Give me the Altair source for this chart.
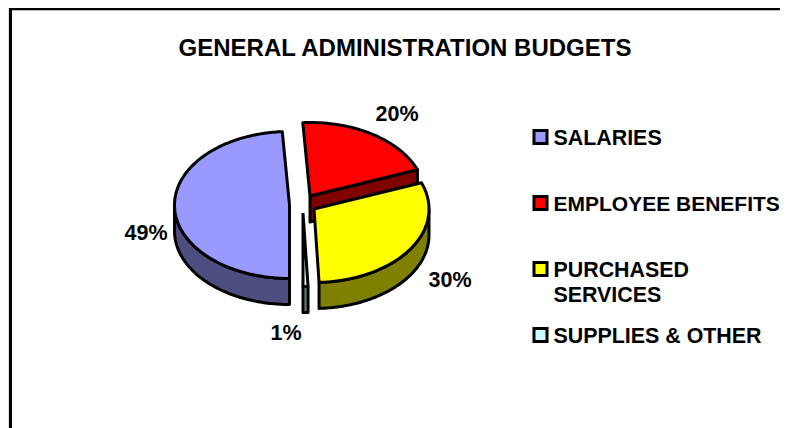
import numpy as np
import pandas as pd
import altair as alt

# --- data ---
title_text = "GENERAL ADMINISTRATION BUDGETS"
categories = ["SALARIES", "EMPLOYEE BENEFITS", "PURCHASED\nSERVICES", "SUPPLIES & OTHER"]
shares = [49.0, 20.2, 30.1, 0.7]
percent_labels = ["49%", "20%", "30%", "1%"]

# --- styles ---
top_colors = ["#9999FF", "#FF0000", "#FFFF00", "#CCFFFF"]
side_colors = ["#4D4D80", "#800000", "#808000", "#668080"]
FONT = "Liberation Sans"
EDGE = 3

# --- layout (pixels in the picture) ---
centers = [(289.5, 205), (310, 196), (314, 209), (303, 213)]
A, B, DEPTH = 115, 73.5, 26
START = 180.0
label_pos = [(146, 234), (397, 115), (450, 281), (286, 334)]
legend_y = [137, 203, 269, 335]
legend_text_dy = 1.5
legend_text_x = 553.5

xs = alt.Scale(domain=[8, 780], range=[0, 772], nice=False, zero=False)
ys = alt.Scale(domain=[428, 8], range=[420, 0], nice=False, zero=False)
X = alt.X("x:Q", scale=xs, axis=None)
Y = alt.Y("y:Q", scale=ys, axis=None)


def rim(cx, cy, t0, t1, dy=0.0):
    ts = np.radians(np.linspace(t0, t1, max(2, int(abs(t1 - t0)) + 2)))
    return list(zip(cx + A * np.sin(ts), cy - B * np.cos(ts) + dy))


def poly(points, fill):
    pts = list(points) + [points[0]]
    df = pd.DataFrame({"x": [p[0] for p in pts], "y": [p[1] for p in pts], "o": range(len(pts))})
    return (
        alt.Chart(df)
        .mark_line(fill=fill, stroke="black", strokeWidth=EDGE, strokeJoin="round", clip=False)
        .encode(x=X, y=Y, order="o:Q")
    )


# slice angles from the shares
spans = [s * 3.6 for s in shares]
starts = list(START + np.cumsum([0] + spans[:-1]))
ends = [s + d for s, d in zip(starts, spans)]

layers = []

# frame
frame_h = pd.DataFrame({"x": [9], "x2": [780], "y": [8.5]})
frame_v = pd.DataFrame({"x": [10.5], "y": [8], "y2": [428]})
frame_g = pd.DataFrame({"x": [12], "x2": [780], "y": [10.5]})
layers.append(alt.Chart(frame_g).mark_rule(color="#bbbbbb", strokeWidth=1).encode(x=X, x2="x2:Q", y=Y))
layers.append(alt.Chart(frame_h).mark_rule(color="black", strokeWidth=3).encode(x=X, x2="x2:Q", y=Y))
layers.append(alt.Chart(frame_v).mark_rule(color="black", strokeWidth=3).encode(x=X, y=Y, y2="y2:Q"))


def wedge(i):
    cx, cy = centers[i]
    return [(cx, cy)] + rim(cx, cy, starts[i], ends[i])


# salaries
cx, cy = centers[0]
layers.append(poly(rim(cx, cy, 180, 270) + rim(cx, cy, 270, 180, DEPTH), side_colors[0]))
layers.append(poly(wedge(0), top_colors[0]))

# employee benefits: cut faces
cx, cy = centers[1]
end_pt = rim(cx, cy, ends[1], ends[1])[0]
layers.append(poly([(cx, cy), end_pt, (end_pt[0], end_pt[1] + DEPTH), (cx, cy + DEPTH)], side_colors[1]))
layers.append(poly(wedge(1), top_colors[1]))

# supplies & other
cx, cy = centers[3]
layers.append(poly(rim(cx, cy, starts[3], ends[3]) + rim(cx, cy, ends[3], starts[3], DEPTH), side_colors[3]))
layers.append(poly(wedge(3), top_colors[3]))

# purchased services
cx, cy = centers[2]
layers.append(poly(rim(cx, cy, 450, ends[2]) + rim(cx, cy, ends[2], 450, DEPTH), side_colors[2]))
layers.append(poly(wedge(2), top_colors[2]))

# title
layers.append(
    alt.Chart(pd.DataFrame({"x": [405], "y": [49], "t": [title_text]}))
    .mark_text(font=FONT, fontWeight="bold", fontSize=24, align="center", baseline="middle", color="black")
    .encode(x=X, y=Y, text="t:N")
)

# percent labels
layers.append(
    alt.Chart(pd.DataFrame({"x": [p[0] for p in label_pos], "y": [p[1] for p in label_pos], "t": percent_labels}))
    .mark_text(font=FONT, fontWeight="bold", fontSize=21.5, align="center", baseline="middle", color="black")
    .encode(x=X, y=Y, text="t:N")
)

# legend
layers.append(
    alt.Chart(pd.DataFrame({"x": [540.5] * 4, "y": legend_y, "c": categories}))
    .mark_square(size=170, opacity=1, stroke="black", strokeWidth=3, filled=True)
    .encode(
        x=X,
        y=Y,
        fill=alt.Fill("c:N", scale=alt.Scale(domain=categories, range=top_colors), legend=None),
    )
)
rows = []
for c, y in zip(categories, legend_y):
    for k, line in enumerate(c.split("\n")):
        rows.append({"x": legend_text_x, "y": y + legend_text_dy + k * 25, "t": line, "s": 21.0 if len(line) > 16 else 21.4})
layers.append(
    alt.Chart(pd.DataFrame(rows))
    .mark_text(font=FONT, fontWeight="bold", align="left", baseline="middle", color="black")
    .encode(x=X, y=Y, text="t:N", size=alt.Size("s:Q", scale=None))
)

chart = (
    alt.layer(*layers)
    .properties(width=772, height=420, padding=0, autosize=alt.AutoSizeParams(type="none"))
    .configure_view(stroke=None)
    .configure(background="white")
)
chart.save("out.html", embed_options={"renderer": "svg", "actions": False})
